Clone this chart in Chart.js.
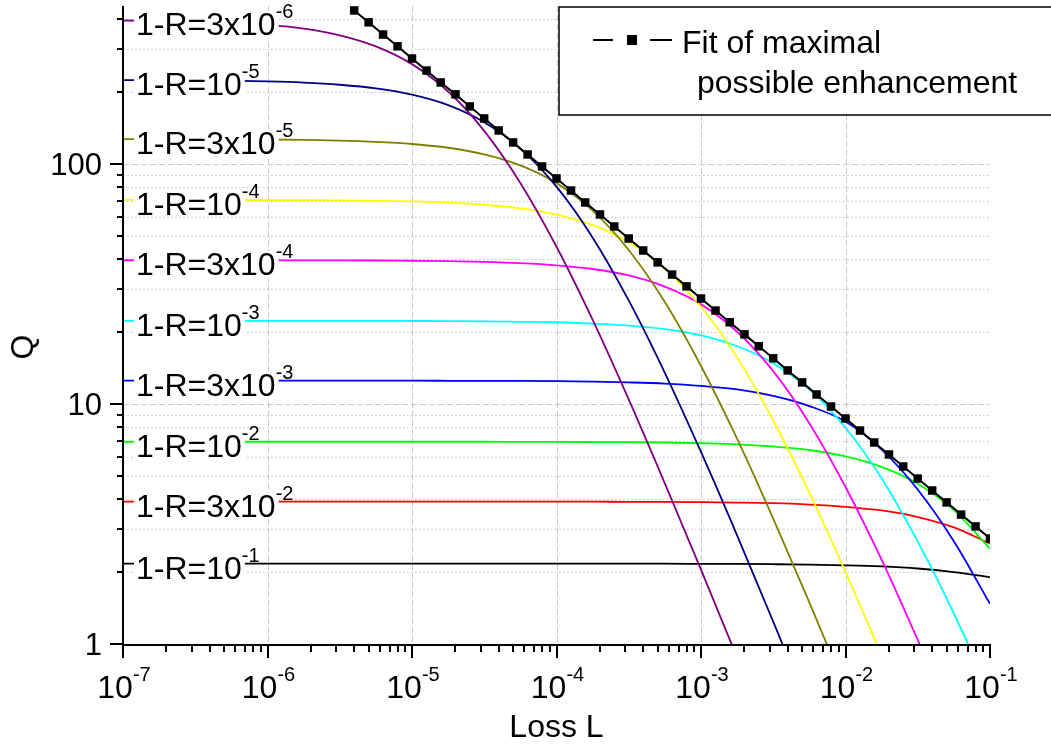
<!DOCTYPE html>
<html>
<head>
<meta charset="utf-8">
<script src="https://cdn.jsdelivr.net/npm/chart.js@4.4.1/dist/chart.umd.min.js"></script>
<style>
  html, body { margin: 0; padding: 0; background: #fff; }
  #qChart { display: block; }
</style>
</head>
<body>
<canvas id="qChart" width="1051" height="746"></canvas>
<script>
// loss values shared by all R curves (quarter-decade steps)
const lossL = [1e-7, 1.78e-7, 3.16e-7, 5.62e-7, 1e-6, 1.78e-6, 3.16e-6, 5.62e-6,
    1e-5, 1.78e-5, 3.16e-5, 5.62e-5, 1e-4, 1.78e-4, 3.16e-4, 5.62e-4,
    1e-3, 1.78e-3, 3.16e-3, 5.62e-3, 1e-2, 1.78e-2, 3.16e-2, 5.62e-2, 1e-1];

// Q
const q3e6 = [396, 394.5, 392, 387, 379.5, 366, 343.6, 309, 260.5, 200.3, 137.3, 83.3, 45.2, 22.4, 10.45, 4.67, 2.04, 0.877];
const q1e5 = [223.4, 223.2, 223, 222, 220.7, 218.3, 213.8, 206.5, 194.5, 175.9, 149.3, 115.9, 80.4, 49.3, 27.0, 13.49, 6.31, 2.83, 1.24, 0.533];
const q3e5 = [127, 126.9, 126.8, 126.6, 126.4, 125.9, 125.1, 123.6, 121.1, 116.8, 109.6, 98.6, 83.2, 63.9, 43.8, 26.6, 14.4, 7.15, 3.33, 1.49, 0.65];
const q1e4 = [70.8, 70.8, 70.8, 70.7, 70.7, 70.6, 70.5, 70.2, 69.8, 69.0, 67.6, 65.3, 61.5, 55.6, 47.2, 36.6, 25.4, 15.6, 8.53, 4.27, 1.995, 0.895];
const q3e4 = [39.7, 39.7, 39.7, 39.7, 39.7, 39.66, 39.64, 39.6, 39.5, 39.4, 39.1, 38.6, 37.8, 36.5, 34.3, 30.8, 26.0, 20.0, 13.7, 8.31, 4.51, 2.24, 1.04, 0.466];
const q1e3 = [22.2, 22.2, 22.2, 22.2, 22.2, 22.2, 22.2, 22.2, 22.17, 22.14, 22.1, 22.0, 21.9, 21.6, 21.2, 20.5, 19.3, 17.4, 14.8, 11.5, 7.96, 4.89, 2.67, 1.34, 0.625];
const q3e3 = [12.5, 12.5, 12.5, 12.5, 12.5, 12.5, 12.5, 12.5, 12.5, 12.49, 12.48, 12.47, 12.44, 12.39, 12.3, 12.16, 11.9, 11.5, 10.8, 9.8, 8.45, 6.45, 4.4, 2.68, 1.47];
const q1e2 = [6.96, 6.96, 6.96, 6.96, 6.96, 6.96, 6.96, 6.96, 6.96, 6.96, 6.96, 6.95, 6.95, 6.94, 6.93, 6.91, 6.86, 6.79, 6.65, 6.43, 6.05, 5.47, 4.65, 3.61, 2.50];
const q3e2 = [3.92, 3.92, 3.92, 3.92, 3.92, 3.92, 3.92, 3.92, 3.92, 3.92, 3.92, 3.92, 3.92, 3.92, 3.91, 3.91, 3.90, 3.885, 3.86, 3.81, 3.73, 3.60, 3.38, 3.06, 2.62];
const q1e1 = [2.16, 2.16, 2.16, 2.16, 2.16, 2.16, 2.16, 2.16, 2.16, 2.16, 2.16, 2.16, 2.16, 2.16, 2.16, 2.16, 2.157, 2.155, 2.15, 2.142, 2.128, 2.105, 2.063, 1.993, 1.90];

const curveSeries = [q3e6, q1e5, q3e5, q1e4, q3e4, q1e3, q3e3, q1e2, q3e2, q1e1];
const curveMain = ['1-R=3x10', '1-R=10', '1-R=3x10', '1-R=10', '1-R=3x10', '1-R=10', '1-R=3x10', '1-R=10', '1-R=3x10', '1-R=10'];
const curveExp = ['-6', '-5', '-5', '-4', '-4', '-3', '-3', '-2', '-2', '-1'];
const curveColors = ['#800080', '#000080', '#808000', '#ffff00', '#ff00ff', '#00ffff', '#0000ff', '#00ff00', '#ff0000', '#000000'];

// fit of maximal possible enhancement (markers every 0.1 decade)
const fitLoss = [3.98e-6, 5.01e-6, 6.31e-6, 7.94e-6,
    1e-5, 1.26e-5, 1.58e-5, 2e-5, 2.51e-5, 3.16e-5, 3.98e-5, 5.01e-5, 6.31e-5, 7.94e-5,
    1e-4, 1.26e-4, 1.58e-4, 2e-4, 2.51e-4, 3.16e-4, 3.98e-4, 5.01e-4, 6.31e-4, 7.94e-4,
    1e-3, 1.26e-3, 1.58e-3, 2e-3, 2.51e-3, 3.16e-3, 3.98e-3, 5.01e-3, 6.31e-3, 7.94e-3,
    1e-2, 1.26e-2, 1.58e-2, 2e-2, 2.51e-2, 3.16e-2, 3.98e-2, 5.01e-2, 6.31e-2, 7.94e-2, 1e-1];
const fitQ = [436, 389, 346, 309,
    275, 245, 218.5, 195, 173.6, 154.7, 137.9, 122.9, 109.5, 97.6,
    87, 77.5, 69.1, 61.6, 54.9, 48.9, 43.6, 38.9, 34.6, 30.9,
    27.5, 24.5, 21.9, 19.5, 17.4, 15.5, 13.8, 12.3, 10.95, 9.76,
    8.7, 7.75, 6.91, 6.16, 5.49, 4.89, 4.36, 3.89, 3.46, 3.09, 2.75];

// axes
const xTicks = [1e-7, 1e-6, 1e-5, 1e-4, 1e-3, 1e-2, 1e-1];
const xTickExp = ['-7', '-6', '-5', '-4', '-3', '-2', '-1'];
const yTicks = [1, 10, 100];
const yTickLabels = ['1', '10', '100'];
const yMax = 455;

const FONT = "'Liberation Sans', Arial, sans-serif";

function seg(ctx, x1, y1, x2, y2) {
    ctx.beginPath();
    ctx.moveTo(x1, y1);
    ctx.lineTo(x2, y2);
    ctx.stroke();
}

function minorValues(majors, top) {
    const out = [];
    majors.forEach(m => {
        for (let k = 2; k <= 9; k++) {
            if (m * k <= top) out.push(m * k);
        }
    });
    return out;
}

const originPlugin = {
    id: 'originLook',
    beforeDatasetsDraw(chart) {
        const { ctx, chartArea: a, scales: { x, y } } = chart;
        ctx.save();
        ctx.lineWidth = 1;
        ctx.strokeStyle = '#c2c2c2';
        ctx.setLineDash([1.5, 2.5]);
        minorValues(yTicks, yMax).forEach(v => {
            const py = Math.round(y.getPixelForValue(v)) + 0.5;
            seg(ctx, a.left, py, a.right, py);
        });
        ctx.strokeStyle = '#c8c8c8';
        ctx.setLineDash([6, 3]);
        yTicks.slice(1).forEach(v => {
            const py = Math.round(y.getPixelForValue(v)) + 0.5;
            seg(ctx, a.left, py, a.right, py);
        });
        xTicks.slice(1, -1).forEach(v => {
            const px = Math.round(x.getPixelForValue(v)) + 0.5;
            seg(ctx, px, a.top, px, a.bottom);
        });
        ctx.restore();
    },
    afterDatasetsDraw(chart) {
        const { ctx, chartArea: a, scales: { x, y } } = chart;
        ctx.save();
        ctx.setLineDash([]);

        // curve labels with white boxes
        curveSeries.forEach((q, i) => {
            const py = y.getPixelForValue(q[0]);
            ctx.font = '32px ' + FONT;
            const wMain = ctx.measureText(curveMain[i]).width;
            ctx.fillStyle = '#fff';
            ctx.fillRect(a.left + 11, py - 9, wMain + 5, 26);
            ctx.fillStyle = '#000';
            ctx.textAlign = 'left';
            ctx.textBaseline = 'alphabetic';
            ctx.fillText(curveMain[i], a.left + 13, py + 15);
            ctx.font = '20px ' + FONT;
            ctx.fillText(curveExp[i], a.left + 13 + wMain, py - 2);
        });

        // axis lines
        ctx.strokeStyle = '#000';
        ctx.lineWidth = 2;
        seg(ctx, a.left, a.bottom + 1, a.left, a.top);
        seg(ctx, a.left - 1, a.bottom + 1, a.right, a.bottom + 1);

        // y ticks
        yTicks.forEach(v => {
            const py = Math.round(y.getPixelForValue(v));
            seg(ctx, a.left - 13, py, a.left, py);
        });
        minorValues(yTicks, yMax).forEach(v => {
            const py = Math.round(y.getPixelForValue(v));
            seg(ctx, a.left - 6, py, a.left, py);
        });
        // x ticks
        xTicks.forEach(v => {
            const px = Math.round(x.getPixelForValue(v));
            seg(ctx, px, a.bottom, px, a.bottom + 14);
        });
        minorValues(xTicks.slice(0, -1), 1).forEach(v => {
            const px = Math.round(x.getPixelForValue(v));
            seg(ctx, px, a.bottom, px, a.bottom + 8);
        });

        // tick labels
        ctx.fillStyle = '#000';
        ctx.textBaseline = 'alphabetic';
        ctx.font = '31px ' + FONT;
        ctx.textAlign = 'right';
        yTicks.forEach((v, i) => {
            ctx.fillText(yTickLabels[i], a.left - 21, y.getPixelForValue(v) + 11);
        });
        ctx.textAlign = 'left';
        xTicks.forEach((v, i) => {
            const px = x.getPixelForValue(v);
            ctx.font = '32px ' + FONT;
            const w1 = ctx.measureText('10').width;
            ctx.font = '20px ' + FONT;
            const w2 = ctx.measureText(xTickExp[i]).width;
            const left = px - (w1 + w2) / 2 + 1;
            ctx.font = '32px ' + FONT;
            ctx.fillText('10', left, a.bottom + 54);
            ctx.font = '20px ' + FONT;
            ctx.fillText(xTickExp[i], left + w1, a.bottom + 37);
        });

        // axis titles
        ctx.font = '32px ' + FONT;
        ctx.textAlign = 'center';
        ctx.fillText('Loss L', (a.left + a.right) / 2, 737);
        ctx.save();
        ctx.translate(33, 347);
        ctx.rotate(-Math.PI / 2);
        ctx.fillText('Q', 0, 0);
        ctx.restore();

        // legend box
        ctx.fillStyle = '#fff';
        ctx.fillRect(559, 7, 520, 108);
        ctx.strokeStyle = '#000';
        ctx.lineWidth = 1.5;
        ctx.strokeRect(559, 7, 520, 108);
        ctx.lineWidth = 2;
        seg(ctx, 593, 40, 613, 40);
        seg(ctx, 650, 40, 672, 40);
        ctx.fillStyle = '#000';
        ctx.fillRect(627, 35, 10, 10);
        ctx.font = '32px ' + FONT;
        ctx.textAlign = 'left';
        ctx.fillText('Fit of maximal', 682, 53);
        ctx.fillText('possible enhancement', 697, 93);
        ctx.restore();
    }
};

const datasets = [{
    label: 'Fit of maximal possible enhancement',
    data: fitLoss.map((l, j) => ({ x: l, y: fitQ[j] })),
    borderColor: '#000',
    backgroundColor: '#000',
    borderWidth: 2,
    pointStyle: 'rect',
    pointRadius: 6,
    pointBorderWidth: 0,
    pointBackgroundColor: '#000'
}];
curveSeries.forEach((q, i) => {
    datasets.push({
        label: curveMain[i] + curveExp[i],
        data: q.map((v, j) => ({ x: lossL[j], y: v })),
        borderColor: curveColors[i],
        borderWidth: 1.8,
        pointRadius: 0,
        cubicInterpolationMode: 'monotone'
    });
});

new Chart(document.getElementById('qChart').getContext('2d'), {
    type: 'line',
    data: { datasets: datasets },
    options: {
        responsive: false,
        animation: false,
        devicePixelRatio: 1,
        layout: { padding: { left: 123, right: 61, top: 5, bottom: 102 } },
        plugins: {
            legend: { display: false },
            tooltip: { enabled: false }
        },
        scales: {
            x: { type: 'logarithmic', min: 1e-7, max: 1e-1, display: false },
            y: { type: 'logarithmic', min: 1, max: yMax, display: false }
        }
    },
    plugins: [originPlugin]
});
</script>
</body>
</html>
